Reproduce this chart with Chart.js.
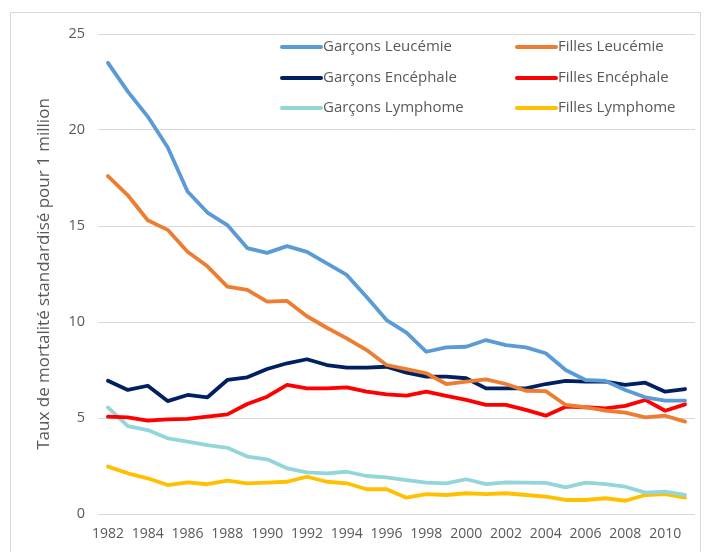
<!DOCTYPE html>
<html>
<head>
<meta charset="utf-8">
<script src="https://cdn.jsdelivr.net/npm/chart.js@4/dist/chart.umd.min.js"></script>
<style>
  html, body { margin: 0; padding: 0; background: #fff; }
  #wrap { position: relative; width: 707px; height: 552px; }
</style>
</head>
<body>
<div id="wrap"><canvas id="c" width="707" height="552"></canvas></div>
<script>
const years = ["1982","1983","1984","1985","1986","1987","1988","1989","1990","1991","1992","1993","1994","1995","1996","1997","1998","1999","2000","2001","2002","2003","2004","2005","2006","2007","2008","2009","2010","2011"];
const yTicks = [0, 5, 10, 15, 20, 25];

const garconsLeucemie = [23.5, 22.0, 20.7, 19.1, 16.8, 15.7, 15.05, 13.85, 13.6, 13.95, 13.65, 13.05, 12.45, 11.3, 10.1, 9.45, 8.45, 8.68, 8.71, 9.06, 8.8, 8.68, 8.37, 7.5, 6.98, 6.93, 6.46, 6.08, 5.9, 5.9];
const fillesLeucemie = [17.6, 16.6, 15.3, 14.8, 13.66, 12.9, 11.84, 11.67, 11.06, 11.1, 10.3, 9.7, 9.15, 8.54, 7.76, 7.55, 7.33, 6.77, 6.89, 7.01, 6.77, 6.42, 6.4, 5.68, 5.56, 5.38, 5.28, 5.03, 5.12, 4.81];
const garconsEncephale = [6.94, 6.46, 6.68, 5.88, 6.2, 6.08, 6.98, 7.12, 7.55, 7.85, 8.06, 7.76, 7.62, 7.62, 7.67, 7.36, 7.15, 7.15, 7.07, 6.54, 6.54, 6.54, 6.77, 6.93, 6.89, 6.89, 6.72, 6.84, 6.37, 6.51];
const fillesEncephale = [5.07, 5.03, 4.86, 4.93, 4.95, 5.07, 5.19, 5.73, 6.11, 6.72, 6.54, 6.54, 6.6, 6.37, 6.23, 6.17, 6.37, 6.15, 5.94, 5.68, 5.68, 5.42, 5.12, 5.59, 5.56, 5.5, 5.63, 5.94, 5.38, 5.71];
const garconsLymphome = [5.55, 4.58, 4.37, 3.94, 3.77, 3.59, 3.45, 2.99, 2.85, 2.38, 2.17, 2.12, 2.2, 1.98, 1.91, 1.76, 1.63, 1.6, 1.81, 1.56, 1.65, 1.63, 1.62, 1.39, 1.63, 1.56, 1.42, 1.11, 1.16, 0.99];
const fillesLymphome = [2.47, 2.12, 1.86, 1.51, 1.65, 1.55, 1.74, 1.6, 1.63, 1.68, 1.94, 1.68, 1.6, 1.29, 1.29, 0.85, 1.04, 0.99, 1.08, 1.04, 1.08, 0.99, 0.9, 0.73, 0.73, 0.82, 0.69, 0.99, 1.04, 0.85];

const yTitle = "Taux de mortalité standardisé pour 1 million";
const FONT = "'Open Sans', 'Noto Sans', sans-serif";
const TXT = "#595959";

function ds(label, data, color) {
  return { label, data, borderColor: color, backgroundColor: color, borderWidth: 3.8,
           pointRadius: 0, tension: 0, fill: false, borderJoinStyle: 'round', borderCapStyle: 'round' };
}

const datasets = [
  ds("Garçons Leucémie", garconsLeucemie, "#5B9BD5"),
  ds("Filles Leucémie", fillesLeucemie, "#ED7D31"),
  ds("Garçons Encéphale", garconsEncephale, "#002060"),
  ds("Filles Encéphale", fillesEncephale, "#FF0000"),
  ds("Garçons Lymphome", garconsLymphome, "#92D6DA"),
  ds("Filles Lymphome", fillesLymphome, "#FFC000")
];

const framePlugin = {
  id: 'frame',
  beforeDraw(chart) {
    const ctx = chart.ctx;
    ctx.save();
    ctx.fillStyle = '#fff';
    ctx.fillRect(0, 0, chart.width, chart.height);
    ctx.strokeStyle = '#d9d9d9';
    ctx.lineWidth = 1;
    ctx.strokeRect(10.5, 12.5, 690, 600);
    ctx.restore();
  }
};

const legendPlugin = {
  id: 'insideLegend',
  afterDraw(chart) {
    const ctx = chart.ctx;
    const cols = [280, 515];
    const rows = [47, 78, 108];
    ctx.save();
    ctx.font = "15px " + FONT;
    ctx.textBaseline = 'middle';
    ctx.textAlign = 'left';
    chart.data.datasets.forEach((d, i) => {
      const x = cols[i % 2], y = rows[Math.floor(i / 2)];
      ctx.strokeStyle = d.borderColor;
      ctx.lineWidth = 4;
      ctx.lineCap = 'round';
      ctx.beginPath();
      ctx.moveTo(x + 2, y);
      ctx.lineTo(x + 41, y);
      ctx.stroke();
      ctx.fillStyle = TXT;
      ctx.fillText(d.label, x + 43, y);
    });
    ctx.restore();
  }
};

new Chart(document.getElementById('c'), {
  type: 'line',
  data: { labels: years, datasets },
  plugins: [framePlugin, legendPlugin],
  options: {
    responsive: false,
    animation: false,
    devicePixelRatio: 1,
    layout: { padding: { left: 0, right: 12, top: 34, bottom: 0 } },
    plugins: { legend: { display: false }, tooltip: { enabled: false } },
    scales: {
      x: {
        offset: true,
        grid: { display: false, drawTicks: false },
        border: { display: false },
        ticks: {
          autoSkip: false, maxRotation: 0, minRotation: 0, padding: 12,
          color: TXT, font: { family: FONT, size: 14 },
          callback: function(v, i) { return i % 2 === 0 ? this.getLabelForValue(v) : ''; }
        },
        afterFit(s) { s.height = 38; }
      },
      y: {
        min: 0, max: 25,
        afterBuildTicks(s) { s.ticks = yTicks.map(v => ({ value: v })); },
        grid: { color: '#d9d9d9', lineWidth: 1, drawTicks: false },
        border: { display: false },
        ticks: { padding: 13, color: TXT, font: { family: FONT, size: 14.5 } },
        title: { display: true, text: yTitle, color: TXT, font: { family: FONT, size: 17 }, padding: { top: 34, bottom: 0 } },
        afterFit(s) { s.width = 98; }
      }
    }
  }
});
</script>
</body>
</html>
